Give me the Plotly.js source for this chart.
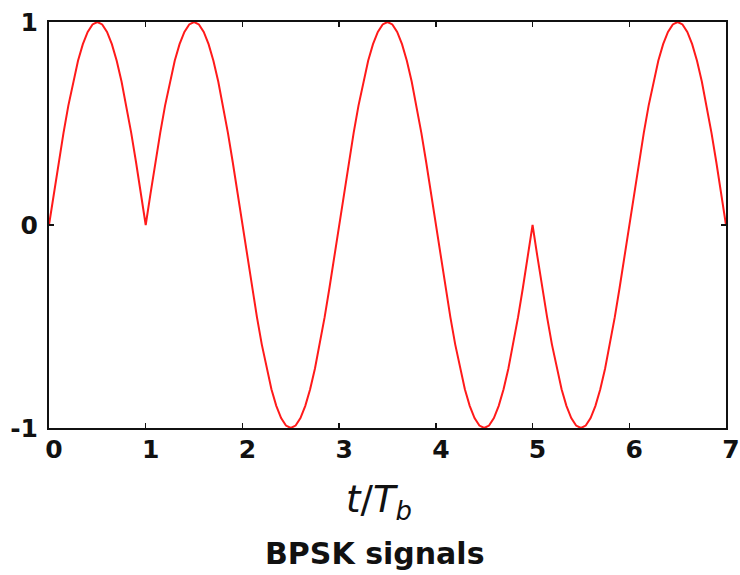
<!DOCTYPE html>
<html>
<head>
<meta charset="utf-8">
<script src="https://cdn.plot.ly/plotly-3.0.1.min.js"></script>
<style>html,body{margin:0;padding:0;background:#fff;}#chart{width:740px;height:575px;}</style>
</head>
<body>
<div id="chart"></div>
<script>
// Sample times (t/Tb), 0.05 steps
const tValues = [
  0.00,0.05,0.10,0.15,0.20,0.25,0.30,0.35,0.40,0.45,0.50,0.55,0.60,0.65,0.70,0.75,0.80,0.85,0.90,0.95,
  1.00,1.05,1.10,1.15,1.20,1.25,1.30,1.35,1.40,1.45,1.50,1.55,1.60,1.65,1.70,1.75,1.80,1.85,1.90,1.95,
  2.00,2.05,2.10,2.15,2.20,2.25,2.30,2.35,2.40,2.45,2.50,2.55,2.60,2.65,2.70,2.75,2.80,2.85,2.90,2.95,
  3.00,3.05,3.10,3.15,3.20,3.25,3.30,3.35,3.40,3.45,3.50,3.55,3.60,3.65,3.70,3.75,3.80,3.85,3.90,3.95,
  4.00,4.05,4.10,4.15,4.20,4.25,4.30,4.35,4.40,4.45,4.50,4.55,4.60,4.65,4.70,4.75,4.80,4.85,4.90,4.95,
  5.00,5.05,5.10,5.15,5.20,5.25,5.30,5.35,5.40,5.45,5.50,5.55,5.60,5.65,5.70,5.75,5.80,5.85,5.90,5.95,
  6.00,6.05,6.10,6.15,6.20,6.25,6.30,6.35,6.40,6.45,6.50,6.55,6.60,6.65,6.70,6.75,6.80,6.85,6.90,6.95,
  7.00
];
// Signal amplitude
const signalValues = [
  0,0.156,0.309,0.454,0.588,0.707,0.809,0.891,0.951,0.988,1,0.988,0.951,0.891,0.809,0.707,0.588,0.454,0.309,0.156,
  0,0.156,0.309,0.454,0.588,0.707,0.809,0.891,0.951,0.988,1,0.988,0.951,0.891,0.809,0.707,0.588,0.454,0.309,0.156,
  0,-0.156,-0.309,-0.454,-0.588,-0.707,-0.809,-0.891,-0.951,-0.988,-1,-0.988,-0.951,-0.891,-0.809,-0.707,-0.588,-0.454,-0.309,-0.156,
  0,0.156,0.309,0.454,0.588,0.707,0.809,0.891,0.951,0.988,1,0.988,0.951,0.891,0.809,0.707,0.588,0.454,0.309,0.156,
  0,-0.156,-0.309,-0.454,-0.588,-0.707,-0.809,-0.891,-0.951,-0.988,-1,-0.988,-0.951,-0.891,-0.809,-0.707,-0.588,-0.454,-0.309,-0.156,
  0,-0.156,-0.309,-0.454,-0.588,-0.707,-0.809,-0.891,-0.951,-0.988,-1,-0.988,-0.951,-0.891,-0.809,-0.707,-0.588,-0.454,-0.309,-0.156,
  0,0.156,0.309,0.454,0.588,0.707,0.809,0.891,0.951,0.988,1,0.988,0.951,0.891,0.809,0.707,0.588,0.454,0.309,0.156,
  0
];
const xTicks = [0,1,2,3,4,5,6,7];
const yTicks = [-1,0,1];
const xTitle = '<i>t</i>/<i>T</i><sub><i>b</i></sub>';
const chartTitle = '<b>BPSK signals</b>';

const trace = {
  x: tValues, y: signalValues, type: 'scatter', mode: 'lines',
  line: {color: '#ff1a1a', width: 2}, hoverinfo: 'skip'
};
const fam = 'DejaVu Sans, Verdana, sans-serif';
const tickFont = {family: fam, size: 25, color: '#111', weight: 'bold'};
const layout = {
  width: 740, height: 575,
  margin: {l: 49, r: 14, t: 22, b: 147},
  paper_bgcolor: '#fff', plot_bgcolor: '#fff',
  showlegend: false,
  xaxis: {
    range: [0, 7], tickvals: xTicks, ticktext: xTicks.map(String),
    ticks: 'inside', ticklen: 5, tickwidth: 1.5, tickcolor: '#111',
    showline: true, linecolor: '#111', linewidth: 2, mirror: 'ticks',
    showgrid: false, zeroline: false, tickfont: tickFont, fixedrange: true,
    ticklabelshift: 5, ticklabelstandoff: -2
  },
  yaxis: {
    range: [-1, 1], tickvals: yTicks, ticktext: yTicks.map(String),
    ticks: 'inside', ticklen: 5, tickwidth: 1.5, tickcolor: '#111',
    showline: true, linecolor: '#111', linewidth: 2, mirror: 'ticks',
    showgrid: false, zeroline: false, tickfont: tickFont, fixedrange: true,
    ticklabelstandoff: 4
  },
  annotations: [
    {text: xTitle, xref: 'paper', yref: 'paper', x: 0.487, y: -0.182, yanchor: 'middle',
     showarrow: false, font: {family: fam, size: 37, color: '#111'}},
    {text: chartTitle, xref: 'paper', yref: 'paper', x: 0.482, y: -0.308, yanchor: 'middle',
     showarrow: false, font: {family: fam, size: 30, color: '#111'}}
  ]
};
Plotly.newPlot('chart', [trace], layout, {displayModeBar: false, staticPlot: true});
</script>
</body>
</html>
